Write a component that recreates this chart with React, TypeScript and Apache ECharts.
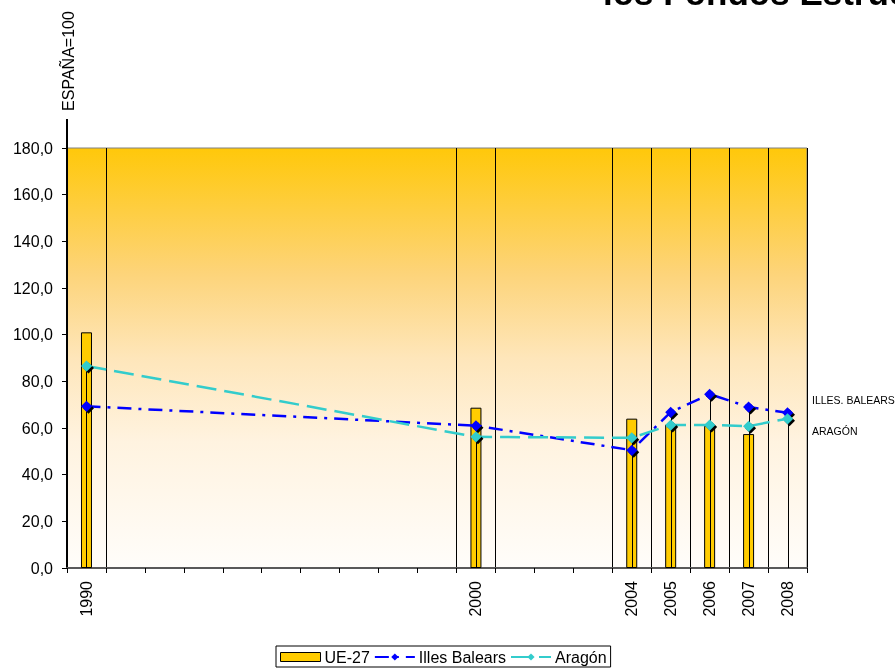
import React, { useEffect, useRef } from "react";
import * as echarts from "echarts";

const years = ["1990","1991","1992","1993","1994","1995","1996","1997","1998","1999","2000","2001","2002","2003","2004","2005","2006","2007","2008"];
const labeledYears = ["1990","2000","2004","2005","2006","2007","2008"];
const ue27 = [101.0,null,null,null,null,null,null,null,null,null,68.7,null,null,null,64.0,61.5,61.0,57.4,null];
const illesBalears = [69.3,null,null,null,null,null,null,null,null,null,61.0,null,null,null,50.5,66.8,74.5,69.0,66.5];
const aragon = [86.6,null,null,null,null,null,null,null,null,null,56.2,null,null,null,55.8,61.3,61.3,60.8,64.0];
const gridBoundaryIdx = [1,10,11,14,15,16,17,18];

const FONT = "'Liberation Sans', Arial, sans-serif";

export default function App() {
  const ref = useRef<HTMLDivElement>(null);
  useEffect(() => {
    if (!ref.current) return;
    const chart = echarts.init(ref.current, null, { renderer: "svg" });
    const dropData: any[] = [];
    years.forEach((y, i) => {
      const a = illesBalears[i], b = aragon[i];
      if (a != null || b != null) dropData.push([i, Math.max(a ?? 0, b ?? 0)]);
    });
    const markerShadow = { shadowColor: "rgba(0,0,0,1)", shadowOffsetX: 2, shadowOffsetY: 2, shadowBlur: 0 };
    chart.setOption({
      animation: false,
      textStyle: { fontFamily: FONT },
      grid: {
        left: 67, right: 88, top: 148, bottom: 103,
        show: true,
        borderColor: "#808080", borderWidth: 1,
        backgroundColor: {
          type: "linear", x: 0, y: 0, x2: 0, y2: 1,
          colorStops: [
            { offset: 0, color: "#FFC80A" },
            { offset: 0.3, color: "#FDD47A" },
            { offset: 0.5, color: "#FEE6BA" },
            { offset: 0.7, color: "#FFF3E0" },
            { offset: 1, color: "#FFFDFA" },
          ],
        },
      },
      legend: {
        left: 276, top: 646,
        borderColor: "#000", borderWidth: 1, borderRadius: 0,
        padding: [3, 4, 2, 4],
        itemGap: 4, itemWidth: 40, itemHeight: 9,
        textStyle: { fontSize: 16, fontFamily: FONT, color: "#000", padding: [0, 0, 0, -1] },
        data: [
          { name: "UE-27", icon: "rect", itemStyle: { borderWidth: 1, borderColor: "#000" } },
          { name: "Illes Balears" },
          { name: "Aragón" },
        ],
      },
      xAxis: {
        type: "category",
        data: years,
        boundaryGap: true,
        axisLine: { lineStyle: { color: "#595959", width: 2 } },
        axisTick: { show: true, interval: 0, length: 5, lineStyle: { color: "#000" } },
        axisLabel: {
          interval: (_i: number, v: string) => labeledYears.includes(v),
          rotate: 90, margin: 13, fontSize: 16, color: "#000", fontFamily: FONT,
        },
        splitLine: {
          show: true,
          interval: (i: number) => gridBoundaryIdx.includes(i),
          lineStyle: { color: "#000", width: 1 },
        },
      },
      yAxis: {
        type: "value", min: 0, max: 180, interval: 20,
        axisLine: { show: true, lineStyle: { color: "#000", width: 2 } },
        axisTick: { show: true, length: 5, lineStyle: { color: "#000" } },
        axisLabel: {
          margin: 14, fontSize: 16, color: "#000", fontFamily: FONT,
          formatter: (v: number) => v.toFixed(1).replace(".", ","),
        },
        splitLine: { show: false },
      },
      series: [
        {
          name: "UE-27", type: "bar", data: ue27, barWidth: 11,
          itemStyle: { color: "#FFCC00", borderColor: "#000", borderWidth: 1 },
          z: 2,
        },
        {
          name: "drop", type: "custom", data: dropData, z: 3, silent: true,
          renderItem: (_p: any, api: any) => {
            const top = api.coord([api.value(0), api.value(1)]);
            const bot = api.coord([api.value(0), 0]);
            const x = Math.round(top[0]) + 0.5;
            return { type: "line", shape: { x1: x, y1: top[1], x2: x, y2: bot[1] }, style: { stroke: "#000", lineWidth: 1 } };
          },
        },
        {
          name: "Illes Balears", type: "line", data: illesBalears, connectNulls: true,
          symbol: "diamond", symbolSize: 11, z: 4,
          lineStyle: { color: "#0000FF", width: 2.5, type: [14, 7, 3, 7] },
          itemStyle: { color: "#0000FF", ...markerShadow },
        },
        {
          name: "Aragón", type: "line", data: aragon, connectNulls: true,
          symbol: "diamond", symbolSize: 11, z: 4,
          lineStyle: { color: "#33CCCC", width: 2.5, type: [20, 8] },
          itemStyle: { color: "#33CCCC", ...markerShadow },
        },
      ],
      graphic: [
        { type: "line", shape: { x1: 67, y1: 119, x2: 67, y2: 148 }, style: { stroke: "#000", lineWidth: 2 } },
        { type: "text", x: 603, y: 10, style: { text: "los Fondos Estructurales", font: `bold 35px ${FONT}`, fill: "#000", verticalAlign: "bottom" } },
        { type: "text", x: 68, y: 61, rotation: Math.PI / 2, style: { text: "ESPAÑA=100", font: `16px ${FONT}`, fill: "#000", align: "center", verticalAlign: "middle" } },
        { type: "text", x: 812, y: 400, style: { text: "ILLES. BALEARS", font: `10.5px ${FONT}`, fill: "#000", verticalAlign: "middle" } },
        { type: "text", x: 812, y: 431, style: { text: "ARAGÓN", font: `10.5px ${FONT}`, fill: "#000", verticalAlign: "middle" } },
      ],
    });
    return () => chart.dispose();
  }, []);
  return <div ref={ref} style={{ position: "fixed", left: 0, top: 0, width: 895, height: 671 }} />;
}
